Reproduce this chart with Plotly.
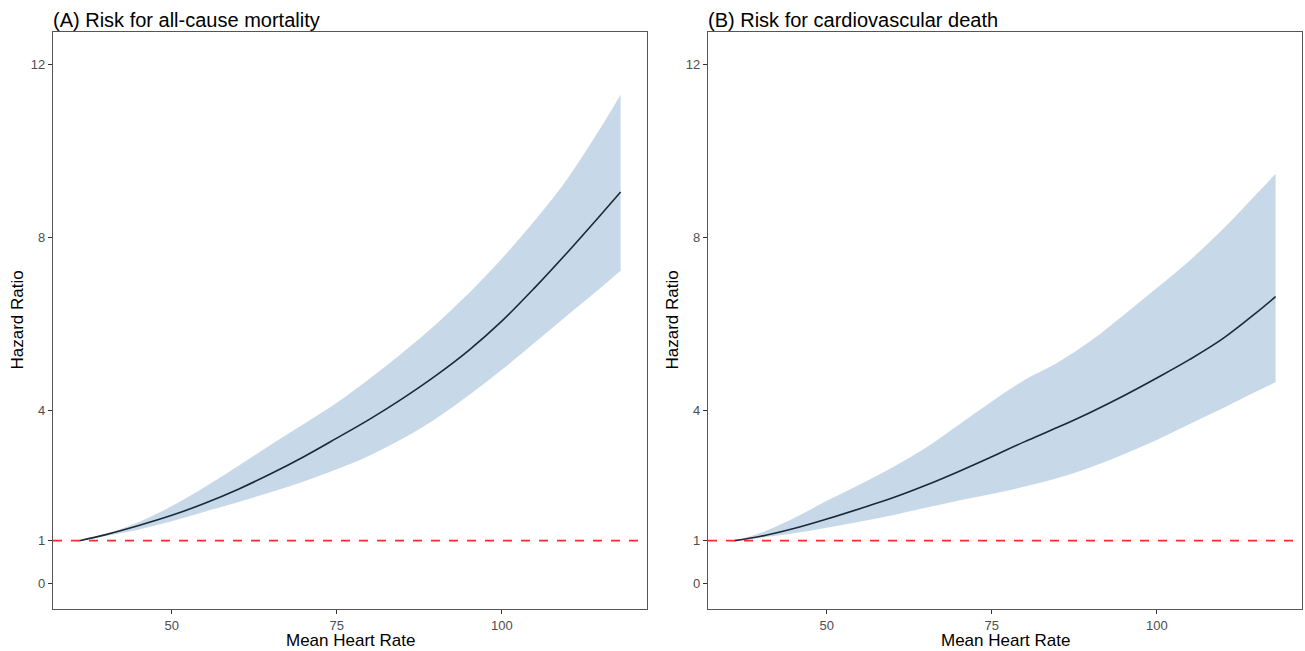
import plotly.graph_objects as go

# Mean heart rate grid
heart_rate = [36, 40, 45, 50, 55, 60, 65, 70, 75, 80, 85, 90, 95, 100, 105, 110, 115, 118]

# (A) all-cause mortality
hr_a = [1.00, 1.14, 1.35, 1.585, 1.865, 2.185, 2.545, 2.94, 3.37, 3.81, 4.29, 4.815, 5.40, 6.075, 6.85, 7.675, 8.535, 9.06]
lo_a = [1.00, 1.11, 1.26, 1.45, 1.67, 1.89, 2.12, 2.37, 2.65, 2.97, 3.36, 3.82, 4.36, 4.95, 5.58, 6.22, 6.85, 7.24]
up_a = [1.00, 1.15, 1.43, 1.80, 2.24, 2.72, 3.22, 3.70, 4.19, 4.75, 5.35, 6.00, 6.72, 7.52, 8.40, 9.38, 10.55, 11.31]

# (B) cardiovascular death
hr_b = [1.00, 1.10, 1.28, 1.50, 1.74, 1.99, 2.28, 2.60, 2.94, 3.29, 3.62, 3.97, 4.35, 4.76, 5.19, 5.67, 6.26, 6.64]
lo_b = [1.00, 1.07, 1.17, 1.30, 1.44, 1.59, 1.76, 1.93, 2.08, 2.25, 2.45, 2.70, 3.00, 3.33, 3.70, 4.06, 4.44, 4.66]
up_b = [1.00, 1.18, 1.52, 1.92, 2.30, 2.70, 3.15, 3.68, 4.22, 4.72, 5.12, 5.62, 6.22, 6.84, 7.48, 8.20, 9.00, 9.48]

titles = ["(A) Risk for all-cause mortality", "(B) Risk for cardiovascular death"]
x_ticks = [50, 75, 100]
y_ticks = [0, 1, 4, 8, 12]
ref_value = 1

W, H = 1305, 651
FONT = "Liberation Sans, Arial, sans-serif"
band_color = "rgba(70,130,180,0.3)"
line_color = "#1b2837"

fig = go.Figure()

panels = [(hr_a, lo_a, up_a), (hr_b, lo_b, up_b)]
x_domains = [(53 / W, 647 / W), (708 / W, 1302 / W)]
y_domain = (1 - 609 / H, 1 - 32 / H)

for i, (mid, lo, up) in enumerate(panels):
    xa = "x" if i == 0 else "x2"
    ya = "y" if i == 0 else "y2"
    fig.add_trace(go.Scatter(x=heart_rate, y=lo, mode="lines", line=dict(width=0, shape="spline", smoothing=1.0),
                             xaxis=xa, yaxis=ya, showlegend=False, hoverinfo="skip"))
    fig.add_trace(go.Scatter(x=heart_rate, y=up, mode="lines", line=dict(width=0, shape="spline", smoothing=1.0),
                             fill="tonexty", fillcolor=band_color,
                             xaxis=xa, yaxis=ya, showlegend=False, hoverinfo="skip"))
    fig.add_trace(go.Scatter(x=heart_rate, y=mid, mode="lines",
                             line=dict(color=line_color, width=1.6, shape="spline", smoothing=1.0),
                             xaxis=xa, yaxis=ya, showlegend=False))
    fig.add_shape(type="line", xref=f"{xa} domain", yref=ya, x0=0, x1=1, y0=ref_value, y1=ref_value,
                  line=dict(color="#ff2a2a", width=1.6, dash="dash"))

axis_common = dict(showgrid=False, zeroline=False, showline=True, mirror=True,
                   linecolor="#555555", linewidth=1.2, ticks="outside", ticklen=4,
                   tickcolor="#333333", tickwidth=1,
                   tickfont=dict(family=FONT, size=13, color="#4d4d4d"))

layout = dict(
    width=W, height=H, margin=dict(l=0, r=0, t=0, b=0),
    plot_bgcolor="white", paper_bgcolor="white",
    font=dict(family=FONT),
    xaxis=dict(domain=x_domains[0], range=[32.0, 122.0], tickvals=x_ticks, anchor="y", **axis_common),
    yaxis=dict(domain=y_domain, range=[-0.58, 12.76], tickvals=y_ticks, anchor="x", **axis_common),
    xaxis2=dict(domain=x_domains[1], range=[32.0, 122.0], tickvals=x_ticks, anchor="y2", **axis_common),
    yaxis2=dict(domain=y_domain, range=[-0.58, 12.76], tickvals=y_ticks, anchor="x2", **axis_common),
)
fig.update_layout(**layout)

annots = []
for i in range(2):
    x0, x1 = x_domains[i]
    annots.append(dict(text=titles[i], xref="paper", yref="paper", x=x0 - 2 / W, y=1 - 20 / H,
                       xanchor="left", yanchor="middle", showarrow=False,
                       font=dict(family=FONT, size=20, color="black")))
    annots.append(dict(text="Mean Heart Rate", xref="paper", yref="paper", x=(x0 + x1) / 2, y=1 - 640 / H,
                       xanchor="center", yanchor="middle", showarrow=False,
                       font=dict(family=FONT, size=17, color="black")))
    annots.append(dict(text="Hazard Ratio", xref="paper", yref="paper", x=x0 - 36 / W, y=(y_domain[0] + y_domain[1]) / 2,
                       xanchor="center", yanchor="middle", showarrow=False, textangle=-90,
                       font=dict(family=FONT, size=17, color="black")))
fig.update_layout(annotations=annots)

fig.write_html("out.html")
